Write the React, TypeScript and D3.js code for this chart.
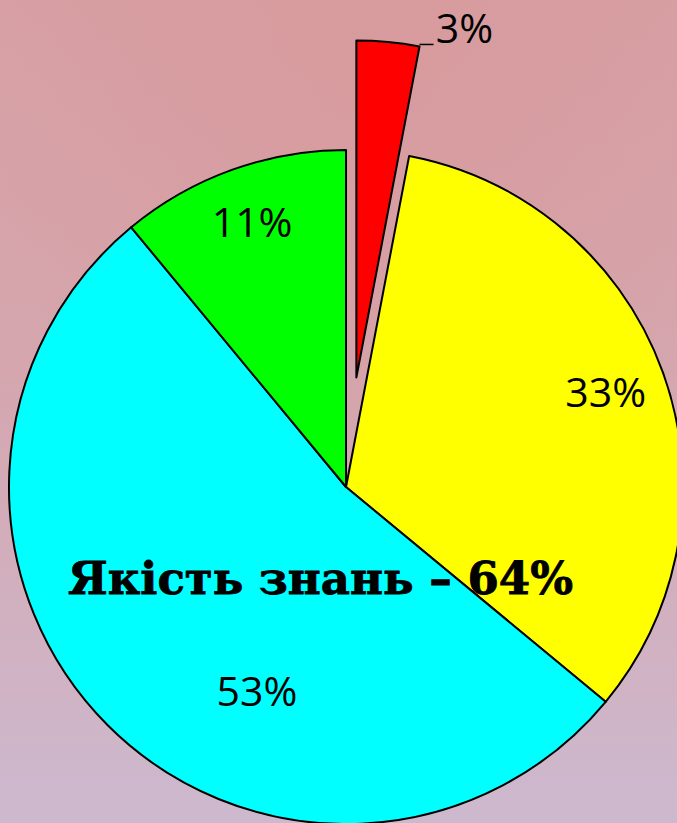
import React from "react";
import * as d3 from "d3";

const categories = ["A", "B", "C", "D"];
const values = [3, 33, 53, 11];
const labels = ["3%", "33%", "53%", "11%"];
const colors = ["#ff0000", "#ffff00", "#00ffff", "#00ff00"];
const title = "Якість знань – 64%";

const W = 677;
const H = 823;
const cx = 346;
const cy = 487;
const R = 337;
const explode = [110, 0, 0, 0];
// label placement: angle (deg clockwise from top), radius fraction
const labelAngle = [null, 70, 203.6, 340.5];
const labelRad = [0, 0.82, 0.66, 0.835];

export default function App() {
  const pie = d3
    .pie<number>()
    .sort(null)
    .value((d) => d)
    .startAngle(0)
    .endAngle(2 * Math.PI);
  const arcs = pie(values);
  const arc = d3.arc<d3.PieArcDatum<number>>().innerRadius(0).outerRadius(R);

  const off = (a: d3.PieArcDatum<number>, i: number) => {
    const m = (a.startAngle + a.endAngle) / 2;
    return [Math.sin(m) * explode[i], -Math.cos(m) * explode[i]];
  };

  const a0 = arcs[0];
  const o0 = off(a0, 0);
  const lx0 = o0[0] + Math.sin(a0.endAngle) * R;
  const ly0 = o0[1] - Math.cos(a0.endAngle) * R;

  return (
    <svg
      width={W}
      height={H}
      style={{ position: "fixed", left: 0, top: 0, display: "block" }}
    >
      <defs>
        <linearGradient id="bg" x1="0" y1="0" x2="0" y2="1">
          <stop offset="0" stopColor="#d7a0a4" />
          <stop offset="0.45" stopColor="#d5a6ae" />
          <stop offset="1" stopColor="#cdb9cf" />
        </linearGradient>
        <radialGradient id="bg2" cx="0.55" cy="0.05" r="0.6">
          <stop offset="0" stopColor="#d8989a" stopOpacity="0.7" />
          <stop offset="1" stopColor="#d8989a" stopOpacity="0" />
        </radialGradient>
      </defs>
      <rect width={W} height={H} fill="url(#bg)" />
      <rect width={W} height={H} fill="url(#bg2)" />
      <g transform={`translate(${cx},${cy})`}>
        {arcs.map((a, i) => {
          const o = off(a, i);
          return (
            <path
              key={categories[i]}
              d={arc(a) || ""}
              transform={`translate(${o[0]},${o[1]})`}
              fill={colors[i]}
              stroke="#000"
              strokeWidth={2}
              strokeLinejoin="round"
            />
          );
        })}
        <polyline
          points={`${lx0},${ly0 - 2} ${lx0 + 14},${ly0 - 2}`}
          fill="none"
          stroke="#000"
          strokeWidth={1.5}
        />
        <text
          x={lx0 + 45}
          y={ly0 - 3}
          fontFamily="'Open Sans', sans-serif"
          fontSize={41}
          textAnchor="middle"
          fill="#000"
        >
          {labels[0]}
        </text>
        {arcs.map((a, i) => {
          if (i === 0) return null;
          const ang = ((labelAngle[i] as number) * Math.PI) / 180;
          const r = labelRad[i] * R;
          const x = Math.sin(ang) * r;
          const y = -Math.cos(ang) * r;
          return (
            <text
              key={"l" + i}
              x={x}
              y={y}
              dy="0.36em"
              textAnchor="middle"
              fontFamily="'Open Sans', sans-serif"
              fontSize={41}
              fill="#000"
            >
              {labels[i]}
            </text>
          );
        })}
      </g>
      <text
        x={68}
        y={594}
        fontFamily="'DejaVu Serif', serif"
        fontWeight="bold"
        fontSize={44}
        textLength={505}
        lengthAdjust="spacingAndGlyphs"
        fill="#000"
        stroke="#000"
        strokeWidth={0.8}
      >
        {title}
      </text>
    </svg>
  );
}
